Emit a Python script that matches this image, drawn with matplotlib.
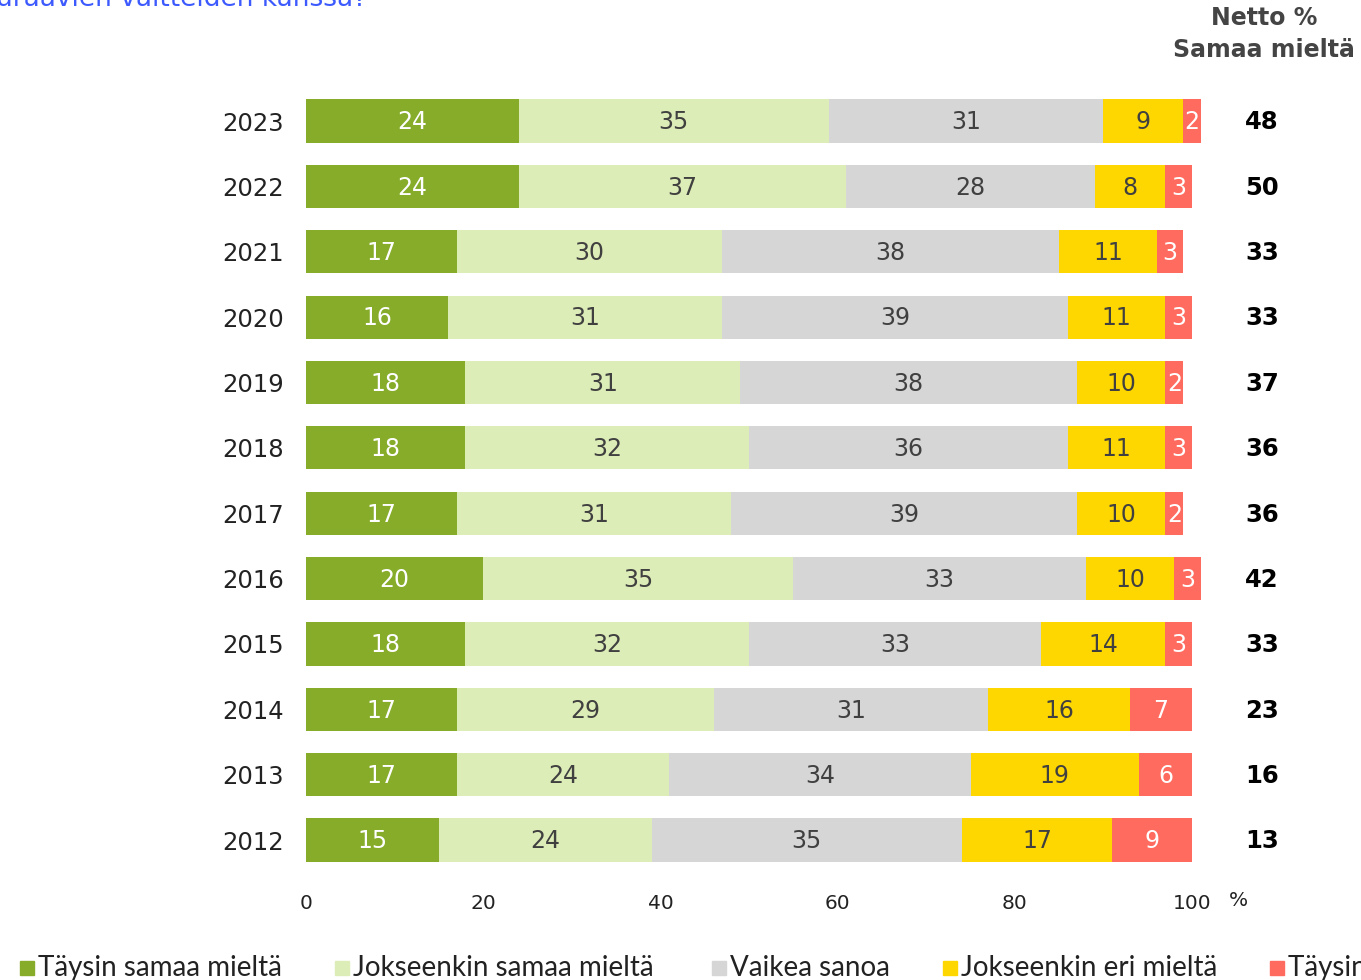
import numpy as np
import matplotlib.pyplot as plt
from matplotlib.patches import Rectangle

plt.rcParams['font.family'] = ['DejaVu Sans']

years = ['2023', '2022', '2021', '2020', '2019', '2018',
         '2017', '2016', '2015', '2014', '2013', '2012']
taysin_samaa = [24, 24, 17, 16, 18, 18, 17, 20, 18, 17, 17, 15]
jokseenkin_samaa = [35, 37, 30, 31, 31, 32, 31, 35, 32, 29, 24, 24]
vaikea = [31, 28, 38, 39, 38, 36, 39, 33, 33, 31, 34, 35]
jokseenkin_eri = [9, 8, 11, 11, 10, 11, 10, 10, 14, 16, 19, 17]
taysin_eri = [2, 3, 3, 3, 2, 3, 2, 3, 3, 7, 6, 9]
netto = [48, 50, 33, 33, 37, 36, 36, 42, 33, 23, 16, 13]

labels = ['Täysin samaa mieltä', 'Jokseenkin samaa mieltä', 'Vaikea sanoa',
          'Jokseenkin eri mieltä', 'Täysin eri mieltä']
colors = ['#86AC2A', '#DDEDB7', '#D6D6D6', '#FFD700', '#FF6B5F']
text_colors = ['white', '#404040', '#404040', '#404040', 'white']
series = [taysin_samaa, jokseenkin_samaa, vaikea, jokseenkin_eri, taysin_eri]

fig = plt.figure(figsize=(13.61, 9.8), dpi=100)
ax = fig.add_axes([306/1361, 1 - 875/980, 886/1361, 787/980])

y = np.arange(len(years))
left = np.zeros(len(years))
for vals, col, tcol in zip(series, colors, text_colors):
    vals = np.array(vals, dtype=float)
    ax.barh(y, vals, left=left, height=0.66, color=col, clip_on=False)
    for yi, l, v in zip(y, left, vals):
        ax.text(l + v / 2, yi + 0.02, f'{int(v)}', ha='center', va='center',
                fontsize=17, color=tcol)
    left += vals

ax.set_xlim(0, 100)
ax.set_ylim(11.535, -0.505)
ax.set_yticks(y)
ax.set_yticklabels(years, fontsize=17.5, color='#222222')
ax.set_xticks([0, 20, 40, 60, 80, 100])
ax.tick_params(axis='both', length=0)
ax.tick_params(axis='y', pad=16)
ax.tick_params(axis='x', labelsize=14.5, pad=14, colors='#222222')
for s in ax.spines.values():
    s.set_visible(False)

# net agreement column
for yi, n in zip(y, netto):
    ax.text(107.9, yi + 0.02, str(n), ha='center', va='center', fontsize=17.5,
            fontweight='bold', color='black', clip_on=False)
fig.text(1238/1361, 1 - 900/980, '%', ha='center', va='center',
         fontsize=14.5, color='#222222')

fig.text(1264/1361, 1 - 18/980, 'Netto %', ha='center', va='center',
         fontsize=17, fontweight='bold', color='#444444')
fig.text(1264/1361, 1 - 50/980, 'Samaa mieltä', ha='center', va='center',
         fontsize=17, fontweight='bold', color='#444444')

fig.text(-0.003, 1 - 6/980, 'uraavien väitteiden kanssa?', ha='left',
         va='baseline', fontsize=19, color='#3D5AFE')

# legend along the bottom edge
leg_x = [20, 335, 712, 943, 1270]
for x0, lab, col in zip(leg_x, labels, colors):
    fig.add_artist(Rectangle((x0/1361, 1 - 975/980), 14/1361, 14/980,
                             transform=fig.transFigure, color=col))
    fig.text((x0 + 18)/1361, 1 - 968/980, lab, ha='left', va='center',
             fontsize=20, color='#222222', family='Lato')

fig.savefig('out.png', dpi=100)
